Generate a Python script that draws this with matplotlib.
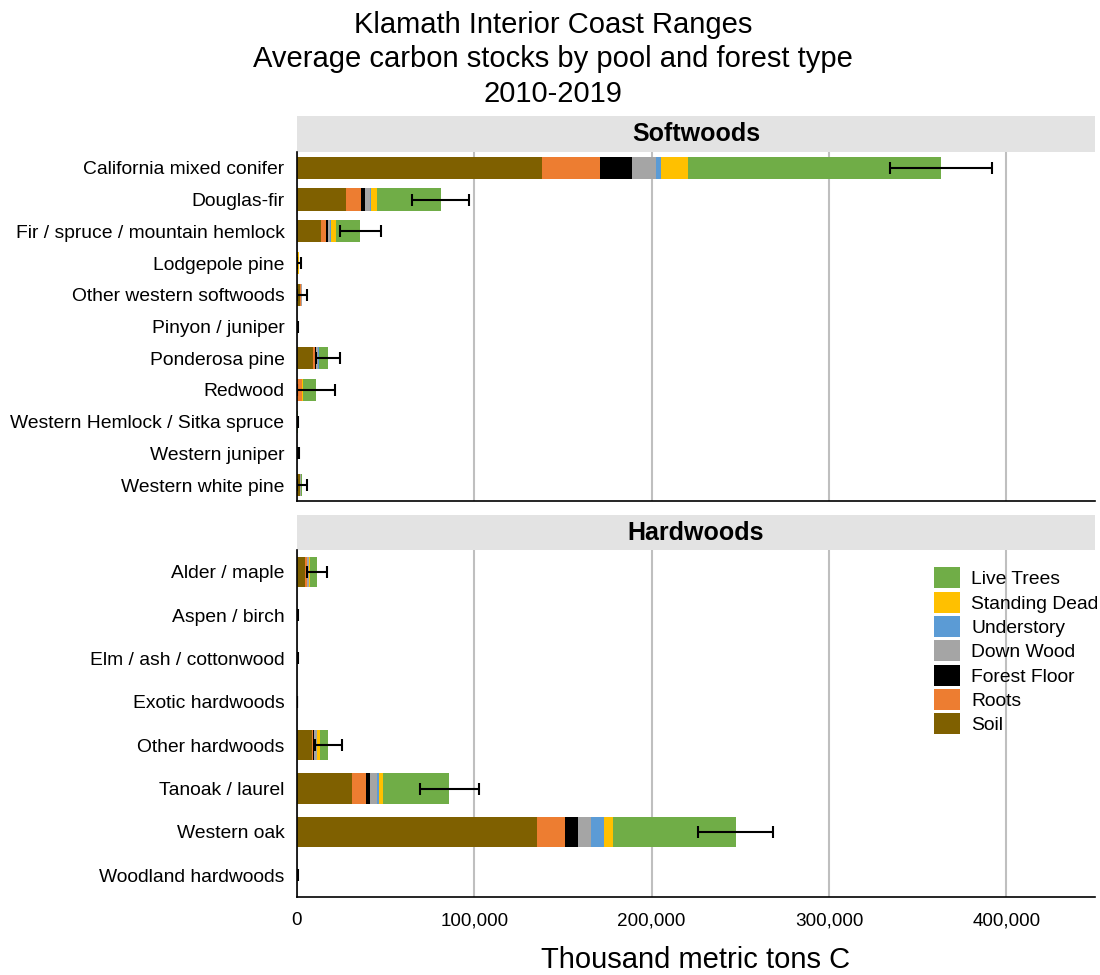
import matplotlib
matplotlib.use("Agg")
import matplotlib.pyplot as plt
import numpy as np
from matplotlib.ticker import FuncFormatter

plt.rcParams["font.family"] = ["Liberation Sans", "DejaVu Sans"]

pools = ["Soil", "Roots", "Forest Floor", "Down Wood", "Understory", "Standing Dead", "Live Trees"]
colors = ["#7F6000", "#ED7D31", "#000000", "#A5A5A5", "#5B9BD5", "#FFC000", "#70AD47"]

# Softwoods (thousand metric tons C)
soft_types = ["California mixed conifer", "Douglas-fir", "Fir / spruce / mountain hemlock",
              "Lodgepole pine", "Other western softwoods", "Pinyon / juniper", "Ponderosa pine",
              "Redwood", "Western Hemlock / Sitka spruce", "Western juniper", "Western white pine"]
soft_soil = [137900, 27600, 13500, 400, 1800, 100, 8800, 500, 150, 100, 1500]
soft_roots = [32800, 8300, 2700, 150, 400, 20, 1300, 2100, 40, 20, 300]
soft_floor = [18200, 2200, 1100, 100, 200, 10, 500, 100, 20, 10, 150]
soft_down = [13400, 3000, 1500, 100, 200, 10, 1400, 200, 20, 10, 150]
soft_under = [2700, 900, 400, 20, 50, 5, 200, 100, 5, 5, 30]
soft_stdead = [15500, 3200, 2600, 80, 150, 5, 400, 200, 15, 5, 100]
soft_live = [142700, 35900, 13900, 350, 200, 50, 5000, 7500, 50, 50, 400]
soft_err = [28700, 16000, 11700, 1200, 2800, 100, 6700, 11000, 200, 800, 2800]

# Hardwoods
hard_types = ["Alder / maple", "Aspen / birch", "Elm / ash / cottonwood", "Exotic hardwoods",
              "Other hardwoods", "Tanoak / laurel", "Western oak", "Woodland hardwoods"]
hard_soil = [4500, 150, 150, 0, 8300, 31200, 135600, 150]
hard_roots = [1000, 30, 30, 0, 900, 7500, 15400, 30]
hard_floor = [300, 10, 10, 0, 600, 2400, 7500, 10]
hard_down = [1000, 10, 10, 0, 1300, 3800, 7100, 10]
hard_under = [200, 5, 5, 0, 400, 1300, 7400, 5]
hard_stdead = [300, 5, 5, 0, 1500, 2100, 5200, 5]
hard_live = [4100, 50, 50, 0, 4600, 37500, 69100, 50]
hard_err = [5600, 200, 300, 0, 7500, 16700, 20900, 200]

soft_vals = [soft_soil, soft_roots, soft_floor, soft_down, soft_under, soft_stdead, soft_live]
hard_vals = [hard_soil, hard_roots, hard_floor, hard_down, hard_under, hard_stdead, hard_live]

fig = plt.figure(figsize=(11, 9.75), dpi=100)
L = 297 / 1100
W = (1095 - 297) / 1100
H = 975


def panel(top_strip, top_plot, bot_plot, title, types, vals, err):
    sax = fig.add_axes([L, 1 - top_plot / H, W, (top_plot - top_strip) / H])
    sax.set_facecolor("#E3E3E3")
    sax.set_xticks([])
    sax.set_yticks([])
    for s in sax.spines.values():
        s.set_visible(False)
    sax.text(0.5, 0.5, title, ha="center", va="center", fontsize=18, fontweight="bold",
             transform=sax.transAxes)

    ax = fig.add_axes([L, 1 - bot_plot / H, W, (bot_plot - top_plot) / H])
    y = np.arange(len(types))
    left = np.zeros(len(types))
    for v, c, name in zip(vals, colors, pools):
        v = np.array(v, dtype=float)
        ax.barh(y, v, left=left, height=0.7, color=c, label=name, zorder=2)
        left = left + v
    xerr_lo = np.minimum(np.array(err, dtype=float), left)
    ax.errorbar(left, y, xerr=[xerr_lo, err], fmt="none", ecolor="black",
                elinewidth=1.5, capsize=4.5, capthick=1.5, zorder=3)
    ax.set_yticks(y)
    ax.set_yticklabels(types, fontsize=13.9)
    ax.set_ylim(len(types) - 0.5, -0.5)
    ax.set_xlim(0, 450000)
    ax.set_xticks([0, 100000, 200000, 300000, 400000])
    ax.xaxis.grid(True, color="#BFBFBF", linewidth=1.5, zorder=0)
    ax.set_axisbelow(True)
    for s in ["top", "right"]:
        ax.spines[s].set_visible(False)
    ax.spines["left"].set_linewidth(1.2)
    ax.spines["bottom"].set_linewidth(1.2)
    ax.tick_params(axis="y", length=0, pad=9)
    ax.tick_params(axis="x", length=0, labelsize=13.6, pad=11)
    return ax


ax1 = panel(116, 152, 501, "Softwoods", soft_types, soft_vals, soft_err)
ax1.set_xticklabels([])
ax2 = panel(515, 550, 897, "Hardwoods", hard_types, hard_vals, hard_err)
ax2.xaxis.set_major_formatter(FuncFormatter(lambda v, p: f"{int(v):,}"))
ax2.set_xlabel("Thousand metric tons C", fontsize=21, labelpad=12)

h, l = ax2.get_legend_handles_labels()
ax2.legend(h[::-1], l[::-1], loc="upper right", bbox_to_anchor=(1.026, 1.0), frameon=False,
           fontsize=13.9, handlelength=1.3, handleheight=1.3, labelspacing=0.17,
           handletextpad=0.6)

fig.suptitle("Klamath Interior Coast Ranges\nAverage carbon stocks by pool and forest type\n2010-2019",
             fontsize=21, y=0.989, x=0.503, linespacing=1.3)

fig.savefig("out.png", dpi=100)
